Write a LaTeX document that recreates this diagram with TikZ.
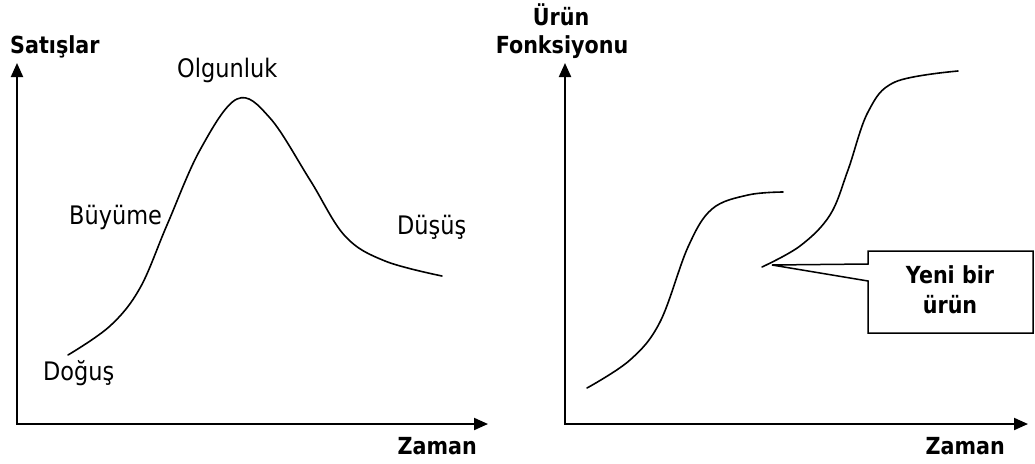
\documentclass[tikz,border=0pt]{standalone}
\usepackage{fontspec}
\setmainfont{DejaVu Sans}[FakeStretch=0.88]
\usetikzlibrary{arrows.meta}
\tikzset{
  axis/.style={line width=2pt, -{Triangle[length=14pt,width=12pt]}},
  curve/.style={line width=1.6pt, line cap=round, smooth, tension=0.6},
  lbl/.style={inner sep=0pt, font=\fontsize{25.5}{30}\selectfont},
  blbl/.style={inner sep=0pt, font=\fontsize{23.5}{27}\selectfont\bfseries, align=center},
  callout/.style={line width=1.5pt, line join=miter}
}
\begin{document}
\begin{tikzpicture}[x=1pt,y=-1pt]
\useasboundingbox (0,0) rectangle (1035,463);
% ---- left graph ----
\coordinate (O1) at (17,424);
\coordinate (Y1) at (17,63);
\coordinate (X1) at (488,424);
\draw[axis] (O1) -- (Y1);
\draw[axis] ([xshift=-1pt]O1) -- (X1);
\node[blbl, anchor=base west] (satis) at (10,53) {Satışlar};
\node[blbl, anchor=base east] (zaman1) at (477,454) {Zaman};
\draw[curve] plot coordinates {(68,355) (110,326) (140,288) (167,225) (200,150) (237,99) (270,118) (310,180) (345,236) (385,261) (442,276)};
\node[lbl, anchor=base west] (olg) at (177,77) {Olgunluk};
\node[lbl, anchor=base west] (buy) at (69,224) {Büyüme};
\node[lbl, anchor=base west] (dus) at (397,234) {Düşüş};
\node[lbl, anchor=base west] (dog) at (43,380) {Doğuş};
% ---- right graph ----
\coordinate (O2) at (565,424);
\coordinate (Y2) at (565,63);
\coordinate (X2) at (1028,424);
\draw[axis] (O2) -- (Y2);
\draw[axis] ([xshift=-1pt]O2) -- (X2);
\node[blbl, anchor=base] (urun) at (561,25) {Ürün};
\node[blbl, anchor=base] (fonk) at (562,53) {Fonksiyonu};
\node[blbl, anchor=base east] (zaman2) at (1005,454) {Zaman};
\draw[curve] plot coordinates {(587,388) (630,360) (660,322) (688,247) (712,209) (748,195) (783,192)};
\draw[curve] plot coordinates {(762,267) (800,246) (830,215) (848,170) (868,112) (895,82) (958,71)};
% ---- callout ----
\coordinate (tip) at (772,265);
\coordinate (b1) at (868,264);
\coordinate (b2) at (868,251);
\coordinate (b3) at (1033,251);
\coordinate (b4) at (1033,333);
\coordinate (b5) at (868,333);
\coordinate (b6) at (868,281);
\draw[callout] (b1) -- (b2) -- (b3) -- (b4) -- (b5) -- (b6) -- (tip) -- cycle;
\node[blbl, anchor=base] (yeni) at (950,283) {Yeni bir};
\node[blbl, anchor=base] (urun2) at (950,313) {ürün};
\end{tikzpicture}
\end{document}
